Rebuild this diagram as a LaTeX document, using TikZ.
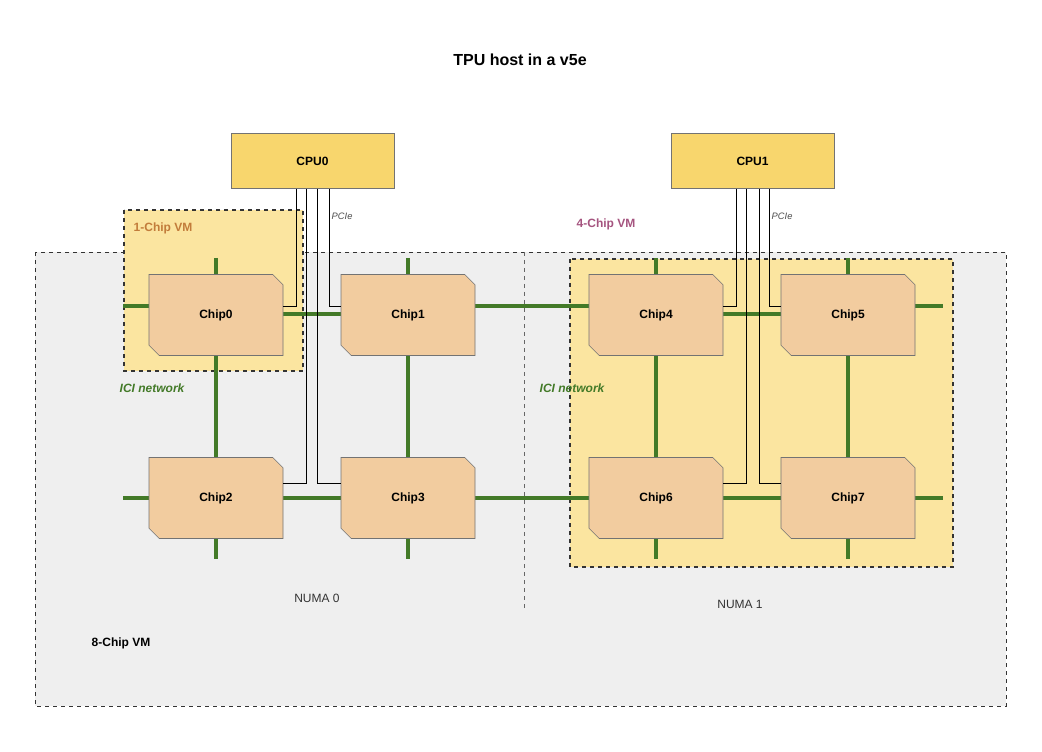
\documentclass[tikz,border=0pt]{standalone}
\usepackage{fontspec}
\setmainfont{Liberation Sans}
\usetikzlibrary{shapes.misc}
\definecolor{grayfill}{HTML}{EFEFEF}
\definecolor{vmyellow}{HTML}{FBE5A0}
\definecolor{cpuyellow}{HTML}{F8D66D}
\definecolor{chipfill}{HTML}{F2CC9F}
\definecolor{ici}{HTML}{437A28}
\definecolor{onechip}{HTML}{C27C3A}
\definecolor{fourchip}{HTML}{A5547F}
\begin{document}
\begin{tikzpicture}[x=0.75pt,y=-0.75pt,
  chip/.style={chamfered rectangle, chamfered rectangle corners={north east,south west},
    chamfered rectangle xsep=7pt, minimum width=100.5pt, minimum height=60.75pt, inner sep=0pt,
    fill=chipfill, draw=black!55, font=\bfseries\small},
  cpu/.style={rectangle, minimum width=122pt, minimum height=41pt, inner sep=0pt,
    fill=cpuyellow, draw=black!55, font=\bfseries\small},
  vm/.style={draw=black!80, dashed, thick},
  link/.style={draw=ici, line width=3.6pt},
  pcie/.style={draw=black, line width=0.7pt},
  lbl/.style={font=\itshape\scriptsize, text=black!70, anchor=west}]
\useasboundingbox (0,0) rectangle (1042,752);
\node[font=\bfseries\large] (title) at (520,60) {TPU host in a v5e};
% regions
\draw[vm, fill=grayfill, thin] (35,252) rectangle (1006,706);
\draw[dashed, black!60] (524,252) -- (524,608);
\draw[vm, fill=vmyellow] (124,210) rectangle (303,371);
\draw[vm, fill=vmyellow] (570,259) rectangle (953,567);
% chip positions
\coordinate (p0) at (216,315); \coordinate (p1) at (408,315);
\coordinate (p4) at (656,315); \coordinate (p5) at (848,315);
\coordinate (p2) at (216,498); \coordinate (p3) at (408,498);
\coordinate (p6) at (656,498); \coordinate (p7) at (848,498);
% ICI links
\draw[link] (123,306) -- (p0 |- 0,306);
\draw[link] (p0 |- 0,314) -- (p1 |- 0,314);
\draw[link] (p1 |- 0,306) -- (p4 |- 0,306);
\draw[link] (p4 |- 0,314) -- (p5 |- 0,314);
\draw[link] (p5 |- 0,306) -- (943,306);
\draw[link] (123,498) -- (943,498);
\foreach \p in {p0,p1,p4,p5}{
  \draw[link] (\p |- 0,258) -- (\p |- 0,559);}
% chips
\foreach \i in {0,...,7}{\node[chip] (c\i) at (p\i) {Chip\i};}
% CPUs
\node[cpu] (cpu0) at (312.5,161) {CPU0};
\node[cpu] (cpu1) at (752.5,161) {CPU1};
% PCIe
\draw[pcie] (cpu0.south -| 296,0) |- (c0.east |- 0,306);
\draw[pcie] (cpu0.south -| 329,0) |- (c1.west |- 0,306);
\draw[pcie] (cpu0.south -| 306,0) |- (c2.east |- 0,483);
\draw[pcie] (cpu0.south -| 317,0) |- (c3.west |- 0,483);
\draw[pcie] (cpu1.south -| 736,0) |- (c4.east |- 0,306);
\draw[pcie] (cpu1.south -| 769,0) |- (c5.west |- 0,306);
\draw[pcie] (cpu1.south -| 746,0) |- (c6.east |- 0,483);
\draw[pcie] (cpu1.south -| 759,0) |- (c7.west |- 0,483);
% labels
\node[lbl] (pl0) at (327,216) {PCIe};
\node[lbl] (pl1) at (767,216) {PCIe};
\node[anchor=west, font=\bfseries\small, text=onechip] (v1) at (129,228) {1-Chip VM};
\node[anchor=west, font=\bfseries\small, text=fourchip] (v4) at (572,224) {4-Chip VM};
\node[anchor=west, font=\bfseries\itshape\small, text=ici] (ici0) at (115,388) {ICI network};
\node[anchor=west, font=\bfseries\itshape\small, text=ici] (ici1) at (535,388) {ICI network};
\node[font=\small, text=black!80] (n0) at (317,598) {NUMA 0};
\node[font=\small, text=black!80] (n1) at (740,604) {NUMA 1};
\node[anchor=west, font=\bfseries\small] (v8) at (87,643) {8-Chip VM};
\end{tikzpicture}
\end{document}
